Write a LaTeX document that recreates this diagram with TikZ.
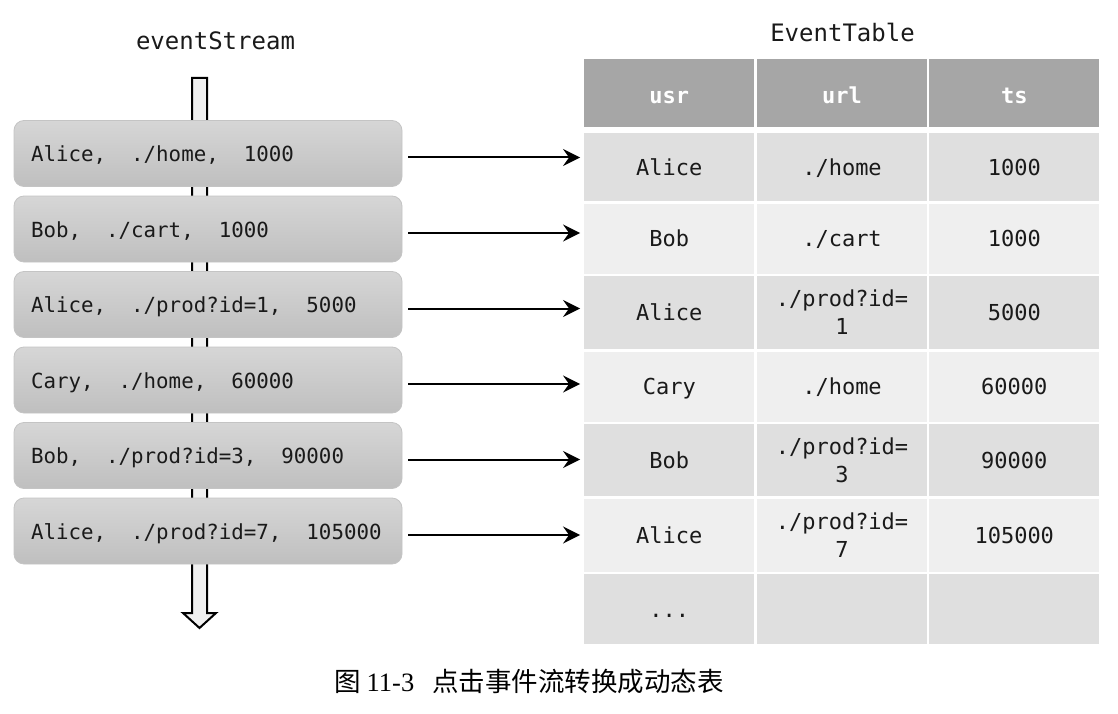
\documentclass[tikz,border=0pt]{standalone}
\usepackage{fontspec}
\setmainfont{Liberation Serif}
\setmonofont{DejaVu Sans Mono}
\newfontfamily\cjk{Noto Sans CJK SC}
\usetikzlibrary{arrows.meta}
\definecolor{hdr}{HTML}{A6A6A6}
\definecolor{rowdark}{HTML}{DFDFDF}
\definecolor{rowlight}{HTML}{EFEFEF}
\definecolor{boxtop}{HTML}{D6D6D6}
\definecolor{boxbot}{HTML}{BFBFBF}
\definecolor{boxline}{HTML}{C4C4C4}
\definecolor{streamfill}{HTML}{F0F0F0}
\definecolor{txt}{HTML}{1A1A1A}
\newcommand\twosp{\hspace*{1.204em}}
\tikzset{
  evbox/.style={rounded corners=10pt, draw=boxline, line width=0.8pt,
    top color=boxtop, bottom color=boxbot,
    minimum height=66pt, text width=354pt, inner xsep=17pt, inner ysep=0pt,
    text height=17pt, text depth=1pt,
    align=left, text=txt, font=\fontsize{20.8}{24}\selectfont\ttfamily},
  cellbase/.style={minimum width=170pt, inner sep=0pt, align=center, text=txt,
    font=\fontsize{22}{28}\selectfont\ttfamily},
  cell/.style={cellbase, text height=16.6pt, text depth=0pt},
  dark/.style={cell, fill=rowdark},
  light/.style={cell, fill=rowlight},
  dark2/.style={cellbase, fill=rowdark},
  light2/.style={cellbase, fill=rowlight},
  headcell/.style={cellbase, fill=hdr, text=white, text height=20pt, text depth=0pt,
    font=\fontsize{22}{28}\selectfont\ttfamily\bfseries},
  ttl/.style={inner sep=0pt, text=txt, font=\fontsize{24}{28}\selectfont\ttfamily},
  flow/.style={-{Stealth[length=17pt,width=17pt,inset=6pt]}, line width=2pt,
    shorten <=6pt, shorten >=4pt},
  stream/.style={draw=black, line width=2pt, fill=streamfill, line join=miter},
}
\begin{document}
\begin{tikzpicture}[x=1pt,y=-1pt]
\useasboundingbox (0,0) rectangle (1118,714);

% titles
\node[ttl] (tS) at (215.5,41) {eventStream};
\node[ttl] (tT) at (842.5,32) {EventTable};

% stream arrow (behind boxes)
\draw[stream] (192,78) -- (207,78) -- (207,613) -- (216,613) -- (199.5,628)
  -- (183,613) -- (192,613) -- cycle;

% event boxes
\node[evbox] (b1) at (208,153.5) {Alice,\twosp./home,\twosp1000};
\node[evbox] (b2) at (208,229) {Bob,\twosp./cart,\twosp1000};
\node[evbox] (b3) at (208,304.5) {Alice,\twosp./prod?id=1,\twosp5000};
\node[evbox] (b4) at (208,380) {Cary,\twosp./home,\twosp60000};
\node[evbox] (b5) at (208,455.5) {Bob,\twosp./prod?id=3,\twosp90000};
\node[evbox] (b6) at (208,531) {Alice,\twosp./prod?id=7,\twosp105000};

% table header
\node[headcell, minimum height=68.5pt] (h1) at (669.25,93.25) {usr};
\node[headcell, minimum height=68.5pt] (h2) at (842,93.25) {url};
\node[headcell, minimum height=68.5pt] (h3) at (1014.25,93.25) {ts};

% rows
\node[dark, minimum height=68pt] (r1a) at (669.25,167) {Alice};
\node[dark, minimum height=68pt] (r1b) at (842,167) {./home};
\node[dark, minimum height=68pt] (r1c) at (1014.25,167) {1000};

\node[light, minimum height=70pt] (r2a) at (669.25,238.5) {Bob};
\node[light, minimum height=70pt] (r2b) at (842,238.5) {./cart};
\node[light, minimum height=70pt] (r2c) at (1014.25,238.5) {1000};

\node[dark, minimum height=73pt] (r3a) at (669.25,312.5) {Alice};
\node[dark2, minimum height=73pt] (r3b) at (842,312.5) {./prod?id=\\1};
\node[dark, minimum height=73pt] (r3c) at (1014.25,312.5) {5000};

\node[light, minimum height=70pt] (r4a) at (669.25,386.5) {Cary};
\node[light, minimum height=70pt] (r4b) at (842,386.5) {./home};
\node[light, minimum height=70pt] (r4c) at (1014.25,386.5) {60000};

\node[dark, minimum height=72pt] (r5a) at (669.25,460) {Bob};
\node[dark2, minimum height=72pt] (r5b) at (842,460) {./prod?id=\\3};
\node[dark, minimum height=72pt] (r5c) at (1014.25,460) {90000};

\node[light, minimum height=73pt] (r6a) at (669.25,535) {Alice};
\node[light2, minimum height=73pt] (r6b) at (842,535) {./prod?id=\\7};
\node[light, minimum height=73pt] (r6c) at (1014.25,535) {105000};

\node[dark, minimum height=70.5pt] (r7a) at (669.25,608.75) {...};
\node[dark, minimum height=70.5pt] (r7b) at (842,608.75) {};
\node[dark, minimum height=70.5pt] (r7c) at (1014.25,608.75) {};

% connectors
\draw[flow] ([yshift=-4pt]b1.east) -- ([yshift=-4pt]b1.east -| r1a.west);
\draw[flow] ([yshift=-4pt]b2.east) -- ([yshift=-4pt]b2.east -| r2a.west);
\draw[flow] ([yshift=-4pt]b3.east) -- ([yshift=-4pt]b3.east -| r3a.west);
\draw[flow] ([yshift=-4pt]b4.east) -- ([yshift=-4pt]b4.east -| r4a.west);
\draw[flow] ([yshift=-4pt]b5.east) -- ([yshift=-4pt]b5.east -| r5a.west);
\draw[flow] ([yshift=-4pt]b6.east) -- ([yshift=-4pt]b6.east -| r6a.west);

% caption
\node[inner sep=0pt, text=black] (cap) at (529,681)
  {\fontsize{26.5}{30}\selectfont\cjk 图\hspace{6pt}{\rmfamily 11-3}\hspace{18pt}点击事件流转换成动态表};
\end{tikzpicture}
\end{document}
